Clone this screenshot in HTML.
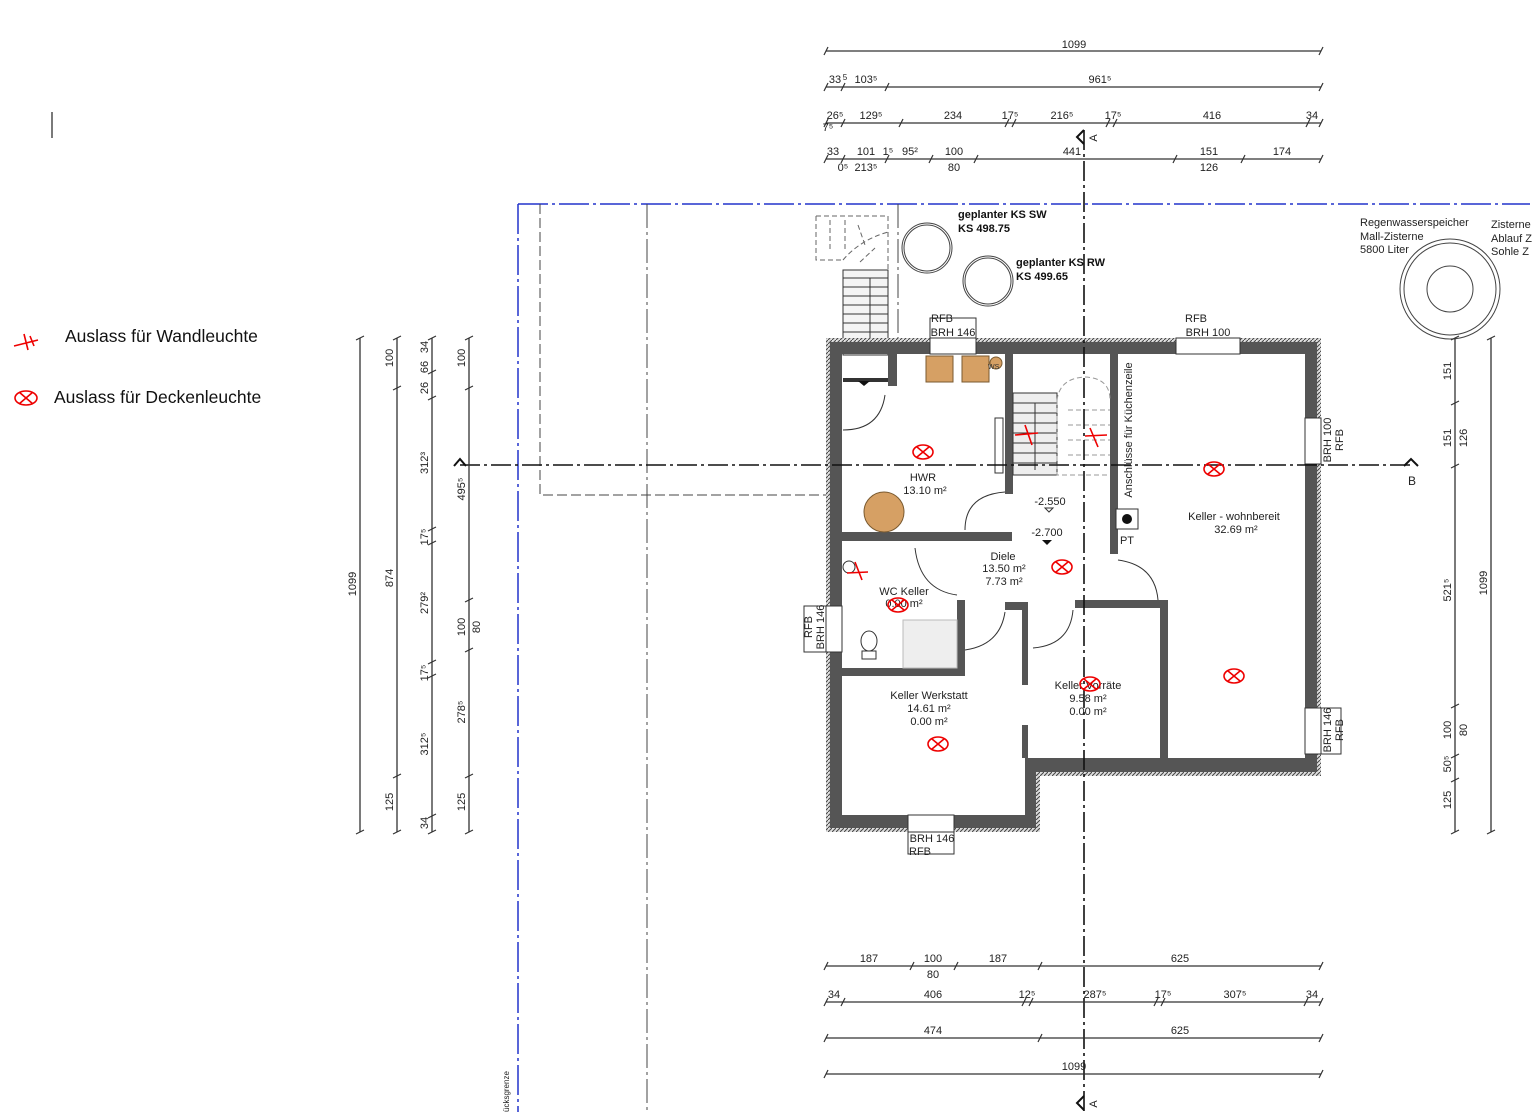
<!DOCTYPE html>
<html><head><meta charset="utf-8"><style>
html,body{margin:0;padding:0;background:#fff;}
svg{display:block;font-family:"Liberation Sans",Arial,sans-serif;}
.d{font-size:11px;fill:#222;text-anchor:middle}
.l{font-size:11px;fill:#222;text-anchor:middle}
.b{font-size:11px;font-weight:bold;fill:#111}
.dl{stroke:#333;stroke-width:1.3;fill:none}
.tk{stroke:#333;stroke-width:1.2}
.r{stroke:#e00;stroke-width:1.6;fill:none}
</style></head><body>
<svg width="1540" height="1120" viewBox="0 0 1540 1120" xmlns="http://www.w3.org/2000/svg">
<defs>
<pattern id="h" width="4" height="4" patternUnits="userSpaceOnUse"><rect width="4" height="4" fill="#ddd"/><path d="M0 4L4 0" stroke="#444" stroke-width="1"/></pattern>
</defs>
<line x1="52" y1="112" x2="52" y2="138" stroke="#222" stroke-width="1.2"/>
<!-- legend -->
<g class="r"><path d="M14 346 L38 340 M24 334 L28 350 M30 336 L34 346"/></g>
<text x="65" y="342" font-size="17.5" fill="#111">Auslass für Wandleuchte</text>
<g class="r"><ellipse cx="26" cy="398" rx="11" ry="7"/><path d="M19 392 L33 404 M33 392 L19 404"/></g>
<text x="54" y="403" font-size="17.5" fill="#111">Auslass für Deckenleuchte</text>

<!-- property lines -->
<path d="M518 204 H1530" stroke="#2233cc" stroke-width="1.5" stroke-dasharray="30 4 3 4"/>
<path d="M518 204 V1112" stroke="#2233cc" stroke-width="1.5" stroke-dasharray="30 4 3 4"/>
<text transform="translate(509,1112) rotate(-90)" font-size="8" fill="#222">ücksgrenze</text>
<path d="M540 204 V495 H826" stroke="#444" stroke-width="1" fill="none" stroke-dasharray="10 4"/>
<path d="M647 204 V1112" stroke="#444" stroke-width="1" stroke-dasharray="24 4 3 4"/>
<path d="M898 204 V338" stroke="#444" stroke-width="1" stroke-dasharray="24 4 3 4"/>

<!-- circles -->
<g fill="none" stroke="#444" stroke-width="1"><circle cx="927" cy="248" r="25"/><circle cx="927" cy="248" r="23"/>
<circle cx="988" cy="281" r="25"/><circle cx="988" cy="281" r="23"/>
<circle cx="1450" cy="289" r="50"/><circle cx="1450" cy="289" r="46"/><circle cx="1450" cy="289" r="23"/></g>
<text class="b" x="958" y="218">geplanter KS SW</text><text class="b" x="958" y="232">KS 498.75</text>
<text class="b" x="1016" y="266">geplanter KS RW</text><text class="b" x="1016" y="280">KS 499.65</text>
<g font-size="11" fill="#222"><text x="1360" y="226">Regenwasserspeicher</text><text x="1360" y="240">Mall-Zisterne</text><text x="1360" y="253">5800 Liter</text>
<text x="1491" y="228">Zisterne</text><text x="1491" y="242">Ablauf Z</text><text x="1491" y="255">Sohle Z</text></g>

<!-- outer stair (dashed top) -->
<g stroke="#666" stroke-width="1" fill="none" stroke-dasharray="5 3"><path d="M816 216 H888 V270 M816 216 V260 H843"/><path d="M843 260 Q860 240 888 232 M860 262 L875 248 M830 220 V250 M845 220 V250 M858 225 L865 245"/></g>
<rect x="843" y="270" width="45" height="85" fill="#f4f4f4" stroke="#333" stroke-width="1"/>
<g stroke="#333" stroke-width="1"><path d="M843 278H888M843 287H888M843 296H888M843 305H888M843 314H888M843 323H888M843 332H888M843 341H888M870 278V350"/></g>
<circle cx="870" cy="350" r="3" fill="#fff" stroke="#333"/>

<!-- walls outer -->
<path d="M826 338 H1321 V776 H1040 V832 H826 Z M842 354 V815 H1025 V758 H1305 V354 Z" fill="#555" fill-rule="evenodd"/>
<path d="M826 338 H1321 V776 H1040 V832 H826 Z M830 342 V828 H1036 V772 H1317 V342 Z" fill="url(#h)" fill-rule="evenodd"/>
<!-- windows -->
<g fill="#fff" stroke="#333" stroke-width="1">
<rect x="930" y="338" width="46" height="16"/><rect x="1176" y="338" width="64" height="16"/>
<rect x="826" y="606" width="16" height="46"/><rect x="804" y="606" width="22" height="46"/>
<rect x="1305" y="418" width="16" height="46"/>
<rect x="1305" y="708" width="16" height="46"/><rect x="1321" y="708" width="20" height="46"/>
<rect x="908" y="815" width="46" height="17"/><rect x="908" y="832" width="46" height="22"/>
<rect x="930" y="318" width="46" height="20"/>
</g>
<!-- interior walls -->
<g fill="#555">
<rect x="888" y="354" width="9" height="32"/>
<rect x="843" y="378" width="45" height="4" fill="#333"/>
<rect x="1005" y="354" width="8" height="140"/>
<rect x="842" y="532" width="170" height="9"/>
<rect x="1110" y="354" width="8" height="200"/>
<rect x="957" y="600" width="8" height="76"/>
<rect x="842" y="668" width="123" height="8"/>
<rect x="1005" y="602" width="22" height="8"/>
<rect x="1022" y="602" width="6" height="156"/>
<rect x="1075" y="600" width="93" height="8"/>
<rect x="1160" y="600" width="8" height="158"/>
</g>
<rect x="1022" y="685" width="6" height="40" fill="#fff"/>
<!-- interior stair -->
<rect x="1013" y="393" width="44" height="82" fill="#eee" stroke="#333"/>
<g stroke="#333" stroke-width="1"><path d="M1013 403H1057M1013 413H1057M1013 423H1057M1013 433H1057M1013 443H1057M1013 453H1057M1013 463H1057M1035 403V470"/></g>
<g stroke="#999" stroke-width="1" fill="none" stroke-dasharray="5 3"><path d="M1057 400 V475 H1110 M1057 400 Q1060 378 1085 377 Q1110 378 1110 400 M1068 410H1110M1068 425H1110M1068 440H1110M1068 455H1110"/></g>
<rect x="995" y="418" width="8" height="55" fill="#fff" stroke="#333"/>
<!-- fixtures -->
<g fill="#d6a064" stroke="#7a5a30" stroke-width="1"><rect x="926" y="356" width="27" height="26"/><rect x="962" y="356" width="27" height="26"/><circle cx="996" cy="363" r="6"/><circle cx="884" cy="512" r="20"/></g>
<rect x="903" y="620" width="54" height="48" fill="#eee" stroke="#bbb"/>
<ellipse cx="869" cy="641" rx="8" ry="10" fill="#fff" stroke="#333"/>
<rect x="862" y="651" width="14" height="8" fill="#fff" stroke="#333"/>
<circle cx="849" cy="567" r="6" fill="#fff" stroke="#333"/>
<rect x="1116" y="509" width="22" height="20" fill="#fff" stroke="#333"/><circle cx="1127" cy="519" r="5" fill="#111"/>
<!-- doors -->
<g fill="none" stroke="#333" stroke-width="1">
<path d="M843 430 Q880 430 885 395"/>
<path d="M965 530 Q965 495 1005 492"/>
<path d="M915 548 Q920 590 957 595"/>
<path d="M965 650 Q1000 645 1005 612"/>
<path d="M1033 648 Q1070 645 1073 610"/>
<path d="M1118 560 Q1155 565 1158 600"/>
</g>
<path d="M858 381 h12 l-6 5 z" fill="#111"/>
<path d="M1042 540 h10 l-5 5 z" fill="#111"/>
<path d="M1045 508 h8 l-4 4 z" fill="none" stroke="#333"/>

<!-- section lines -->
<path d="M1084 130 V1112" stroke="#111" stroke-width="1.6" stroke-dasharray="20 4 3 4"/>
<path d="M460 465 H1410" stroke="#111" stroke-width="1.6" stroke-dasharray="20 4 3 4"/>
<path d="M454 466 L460 459 L466 466" fill="none" stroke="#111" stroke-width="2"/>
<path d="M1404 466 L1411 459 L1418 466" fill="none" stroke="#111" stroke-width="2"/>
<text x="1408" y="485" font-size="12" fill="#222">B</text>
<path d="M1084 130 L1077 137 L1084 144" fill="none" stroke="#111" stroke-width="2"/>
<path d="M1084 1096 L1077 1103 L1084 1110" fill="none" stroke="#111" stroke-width="2"/>
<text transform="translate(1097,138) rotate(-90)" font-size="11" fill="#222" text-anchor="middle">A</text>
<text transform="translate(1097,1104) rotate(-90)" font-size="11" fill="#222" text-anchor="middle">A</text>

<!-- room labels -->
<g class="l">
<text x="923" y="481">HWR</text><text x="925" y="494">13.10 m²</text>
<text x="1003" y="560">Diele</text><text x="1004" y="572">13.50 m²</text><text x="1004" y="585">7.73 m²</text>
<text x="904" y="595">WC Keller</text><text x="904" y="607">0.00 m²</text>
<text x="929" y="699">Keller Werkstatt</text><text x="929" y="712">14.61 m²</text><text x="929" y="725">0.00 m²</text>
<text x="1088" y="689">Keller Vorräte</text><text x="1088" y="702">9.58 m²</text><text x="1088" y="715">0.00 m²</text>
<text x="1234" y="520">Keller - wohnbereit</text><text x="1236" y="533">32.69 m²</text>
<text x="1050" y="505">-2.550</text><text x="1047" y="536">-2.700</text>
<text x="1127" y="544">PT</text>
<text x="942" y="322">RFB</text><text x="953" y="336">BRH 146</text>
<text x="1196" y="322">RFB</text><text x="1208" y="336">BRH 100</text>
<text x="932" y="842">BRH 146</text><text x="920" y="855">RFB</text>
</g>
<text transform="translate(1132,430) rotate(-90)" font-size="11" fill="#222" text-anchor="middle">Anschlüsse für Küchenzeile</text>
<g font-size="11" fill="#222" text-anchor="middle">
<text transform="translate(812,627) rotate(-90)">RFB</text><text transform="translate(824,627) rotate(-90)">BRH 146</text>
<text transform="translate(1331,440) rotate(-90)">BRH 100</text><text transform="translate(1343,440) rotate(-90)">RFB</text>
<text transform="translate(1331,730) rotate(-90)">BRH 146</text><text transform="translate(1343,730) rotate(-90)">RFB</text>
</g>
<text x="988" y="369" font-size="7" fill="#333">WS</text>

<!-- red markers -->
<g class="r">
<g transform="translate(923,452)"><ellipse rx="10" ry="7"/><path d="M-6-5L6 5M6-5L-6 5"/></g>
<g transform="translate(1214,469)"><ellipse rx="10" ry="7"/><path d="M-6-5L6 5M6-5L-6 5"/></g>
<g transform="translate(1062,567)"><ellipse rx="10" ry="7"/><path d="M-6-5L6 5M6-5L-6 5"/></g>
<g transform="translate(898,605)"><ellipse rx="10" ry="7"/><path d="M-6-5L6 5M6-5L-6 5"/></g>
<g transform="translate(1234,676)"><ellipse rx="10" ry="7"/><path d="M-6-5L6 5M6-5L-6 5"/></g>
<g transform="translate(938,744)"><ellipse rx="10" ry="7"/><path d="M-6-5L6 5M6-5L-6 5"/></g>
<g transform="translate(1090,684)"><ellipse rx="10" ry="7"/><path d="M-6-5L6 5M6-5L-6 5"/></g>
<path d="M1015 435 L1038 433 M1025 425 L1032 445"/>
<path d="M1085 436 L1107 435 M1090 428 L1098 447"/>
<path d="M847 573 L868 572 M855 562 L862 580"/>
</g>

<!-- top dims -->
<g class="dl"><path d="M826 51H1321M826 87H1321M826 123H1321M826 159H1321"/></g>
<g class="tk">
<path d="M824 55l4-8M1319 55l4-8"/>
<path d="M824 91l4-8M841 91l4-8M885 91l4-8M1319 91l4-8"/>
<path d="M824 127l4-8M841 127l4-8M899 127l4-8M1005 127l4-8M1012 127l4-8M1106 127l4-8M1113 127l4-8M1306 127l4-8M1319 127l4-8"/>
<path d="M824 163l4-8M841 163l4-8M885 163l4-8M929 163l4-8M974 163l4-8M1173 163l4-8M1241 163l4-8M1319 163l4-8"/>
</g>
<g class="d">
<text x="1074" y="48">1099</text>
<text x="835" y="83">33</text><text x="866" y="83">103⁵</text><text x="1100" y="83">961⁵</text><text x="845" y="80" font-size="8">5</text>
<text x="835" y="119">26⁵</text><text x="871" y="119">129⁵</text><text x="953" y="119">234</text><text x="1010" y="119">17⁵</text><text x="1062" y="119">216⁵</text><text x="1113" y="119">17⁵</text><text x="1212" y="119">416</text><text x="1312" y="119">34</text><text x="828" y="131">7⁵</text>
<text x="833" y="155">33</text><text x="866" y="155">101</text><text x="888" y="155">1⁵</text><text x="910" y="155">95²</text><text x="954" y="155">100</text><text x="1072" y="155">441</text><text x="1209" y="155">151</text><text x="1282" y="155">174</text>
<text x="843" y="171">0⁵</text><text x="866" y="171">213⁵</text><text x="954" y="171">80</text><text x="1209" y="171">126</text>
</g>
<!-- bottom dims -->
<g class="dl"><path d="M826 966H1321M826 1002H1321M826 1038H1321M826 1074H1321"/></g>
<g class="tk">
<path d="M824 970l4-8M910 970l4-8M954 970l4-8M1038 970l4-8M1319 970l4-8"/>
<path d="M824 1006l4-8M841 1006l4-8M1022 1006l4-8M1029 1006l4-8M1154 1006l4-8M1161 1006l4-8M1304 1006l4-8M1319 1006l4-8"/>
<path d="M824 1042l4-8M1038 1042l4-8M1319 1042l4-8"/>
<path d="M824 1078l4-8M1319 1078l4-8"/>
</g>
<g class="d">
<text x="869" y="962">187</text><text x="933" y="962">100</text><text x="933" y="978">80</text><text x="998" y="962">187</text><text x="1180" y="962">625</text>
<text x="834" y="998">34</text><text x="933" y="998">406</text><text x="1027" y="998">12⁵</text><text x="1095" y="998">287⁵</text><text x="1163" y="998">17⁵</text><text x="1235" y="998">307⁵</text><text x="1312" y="998">34</text>
<text x="933" y="1034">474</text><text x="1180" y="1034">625</text>
<text x="1074" y="1070">1099</text>
</g>
<!-- left dims -->
<g class="dl"><path d="M360 338V832M397 338V832M432 338V832M469 338V832"/></g>
<g class="tk">
<path d="M356 340l8-4M356 834l8-4M393 340l8-4M393 390l8-4M393 778l8-4M393 834l8-4"/>
<path d="M428 340l8-4M428 374l8-4M428 400l8-4M428 531l8-4M428 545l8-4M428 664l8-4M428 678l8-4M428 818l8-4M428 834l8-4"/>
<path d="M465 340l8-4M465 390l8-4M465 602l8-4M465 652l8-4M465 778l8-4M465 834l8-4"/>
<path d="M1451 340l8-4M1451 405l8-4M1451 468l8-4M1451 708l8-4M1451 758l8-4M1451 782l8-4M1451 834l8-4M1487 340l8-4M1487 834l8-4"/>
</g>
<g class="d">
<text transform="translate(356,584) rotate(-90)">1099</text>
<text transform="translate(393,358) rotate(-90)">100</text><text transform="translate(393,578) rotate(-90)">874</text><text transform="translate(393,802) rotate(-90)">125</text>
<text transform="translate(428,347) rotate(-90)">34</text><text transform="translate(428,367) rotate(-90)">66</text><text transform="translate(428,388) rotate(-90)">26</text><text transform="translate(428,463) rotate(-90)">312³</text><text transform="translate(428,537) rotate(-90)">17⁵</text><text transform="translate(428,603) rotate(-90)">279²</text><text transform="translate(428,673) rotate(-90)">17⁵</text><text transform="translate(428,744) rotate(-90)">312⁵</text><text transform="translate(428,823) rotate(-90)">34</text>
<text transform="translate(465,358) rotate(-90)">100</text><text transform="translate(465,489) rotate(-90)">495⁵</text><text transform="translate(465,627) rotate(-90)">100</text><text transform="translate(480,627) rotate(-90)">80</text><text transform="translate(465,712) rotate(-90)">278⁵</text><text transform="translate(465,802) rotate(-90)">125</text>
</g>
<!-- right dims -->
<g class="dl"><path d="M1455 338V832M1491 338V832"/></g>
<g class="d">
<text transform="translate(1451,371) rotate(-90)">151</text><text transform="translate(1451,438) rotate(-90)">151</text><text transform="translate(1467,438) rotate(-90)">126</text>
<text transform="translate(1451,590) rotate(-90)">521⁵</text><text transform="translate(1451,730) rotate(-90)">100</text><text transform="translate(1467,730) rotate(-90)">80</text>
<text transform="translate(1451,764) rotate(-90)">50⁵</text><text transform="translate(1451,800) rotate(-90)">125</text>
<text transform="translate(1487,583) rotate(-90)">1099</text>
</g>
</svg>
</body></html>
